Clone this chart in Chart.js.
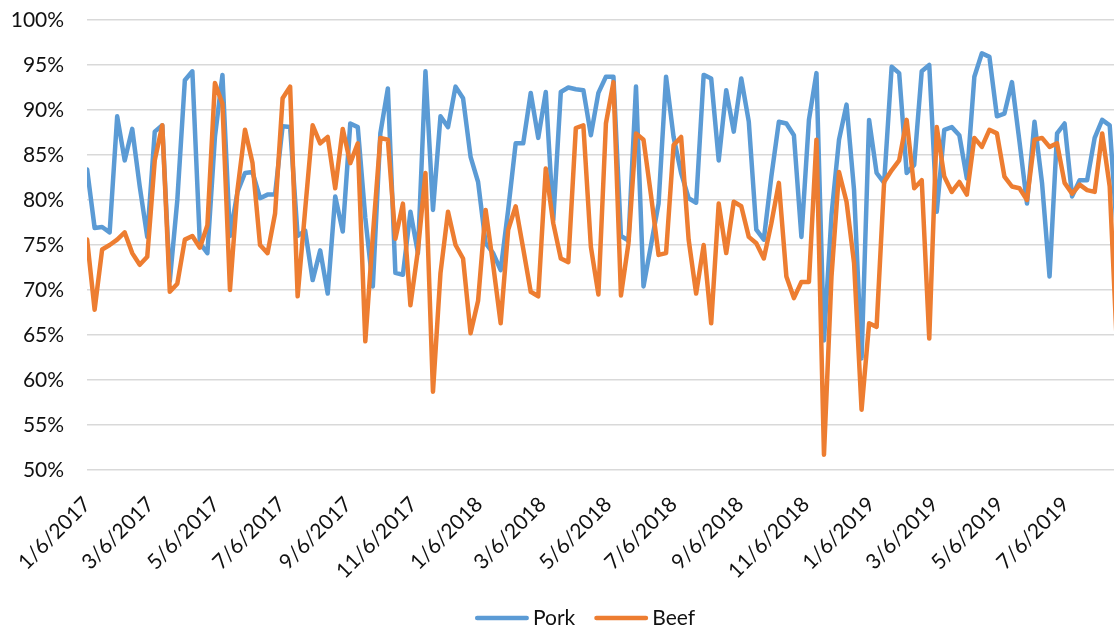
<!DOCTYPE html>
<html>
<head>
<meta charset="utf-8">
<script src="https://cdn.jsdelivr.net/npm/chart.js@4.4.1/dist/chart.umd.min.js"></script>
<style>
  html, body { margin: 0; padding: 0; background: #ffffff; }
  #wrap { width: 1114px; height: 630px; }
</style>
</head>
<body>
<div id="wrap"><canvas id="c" width="1114" height="630"></canvas></div>
<script>
// Weekly series, first week 1/6/2017 (values in percent)
const firstWeek = '1/6/2017';
const daysPerWeek = 7;
const lastVisibleDay = 956;

const pork = [
  83.4, 76.9, 77.0, 76.4, 89.3, 84.4, 87.9, 81.5, 75.9, 87.6,
  88.3, 71.0, 80.0, 93.3, 94.3, 75.2, 74.1, 87.0, 93.9, 76.0,
  80.9, 83.0, 83.1, 80.2, 80.6, 80.6, 88.2, 88.1, 76.0, 76.6,
  71.1, 74.4, 69.6, 80.4, 76.5, 88.5, 88.1, 78.0, 70.4, 87.4,
  92.4, 71.9, 71.7, 78.7, 74.1, 94.3, 78.9, 89.3, 88.1, 92.6,
  91.3, 84.8, 82.0, 75.2, 74.1, 72.2, 78.9, 86.3, 86.3, 91.9,
  86.9, 92.0, 77.8, 92.0, 92.5, 92.3, 92.2, 87.2, 91.9, 93.7,
  93.7, 76.0, 75.5, 92.6, 70.4, 75.0, 79.6, 93.7, 87.0, 83.0,
  80.2, 79.7, 93.9, 93.5, 84.4, 92.2, 87.6, 93.5, 88.7, 76.7,
  75.6, 82.6, 88.7, 88.5, 87.2, 75.9, 88.9, 94.1, 64.4, 78.3,
  86.7, 90.6, 81.1, 62.4, 88.9, 83.0, 81.9, 94.8, 94.1, 83.0,
  83.9, 94.3, 95.0, 78.7, 87.8, 88.1, 87.2, 82.4, 93.7, 96.3,
  95.9, 89.3, 89.6, 93.1, 86.5, 79.6, 88.7, 81.9, 71.5, 87.4,
  88.5, 80.4, 82.2, 82.2, 86.9, 88.9, 88.3, 76.0
];

const beef = [
  75.6, 67.8, 74.5, 75.0, 75.6, 76.4, 74.1, 72.8, 73.7, 84.4,
  88.3, 69.8, 70.7, 75.6, 76.0, 74.7, 77.2, 93.0, 90.7, 70.0,
  81.1, 87.8, 84.1, 75.0, 74.1, 78.5, 91.3, 92.6, 69.3, 78.9,
  88.3, 86.3, 87.0, 81.3, 87.9, 84.1, 86.3, 64.3, 76.0, 86.9,
  86.7, 75.7, 79.6, 68.3, 74.4, 83.0, 58.7, 71.9, 78.7, 75.0,
  73.5, 65.2, 68.8, 78.9, 72.8, 66.3, 76.7, 79.3, 74.6, 69.8,
  69.3, 83.5, 77.4, 73.5, 73.1, 88.0, 88.3, 74.8, 69.5, 88.5,
  93.1, 69.4, 75.2, 87.4, 86.7, 80.5, 73.9, 74.1, 86.1, 87.0,
  75.6, 69.6, 75.0, 66.3, 79.6, 74.1, 79.8, 79.3, 75.9, 75.2,
  73.5, 77.4, 81.9, 71.5, 69.1, 70.9, 70.9, 86.7, 51.7, 71.5,
  83.1, 79.8, 73.0, 56.7, 66.3, 65.9, 82.0, 83.3, 84.4, 88.9,
  81.3, 82.2, 64.6, 88.1, 82.6, 80.9, 82.0, 80.6, 86.9, 85.9,
  87.8, 87.4, 82.6, 81.5, 81.3, 80.0, 86.7, 86.9, 85.9, 86.3,
  81.9, 80.7, 81.7, 81.1, 80.9, 87.4, 81.5, 63.0
];

const dateTickLabels = [
  '1/6/2017', '3/6/2017', '5/6/2017', '7/6/2017', '9/6/2017', '11/6/2017',
  '1/6/2018', '3/6/2018', '5/6/2018', '7/6/2018', '9/6/2018', '11/6/2018',
  '1/6/2019', '3/6/2019', '5/6/2019', '7/6/2019'
];

const yTickValues = [50, 55, 60, 65, 70, 75, 80, 85, 90, 95, 100];

// Convert M/D/YYYY to a day offset from the first week
function toUTC(label) {
  const [m, d, y] = label.split('/').map(Number);
  return Date.UTC(y, m - 1, d);
}
const origin = toUTC(firstWeek);
const dayOf = label => Math.round((toUTC(label) - origin) / 86400000);
const tickDays = dateTickLabels.map(dayOf);
const labelForDay = new Map(tickDays.map((d, i) => [d, dateTickLabels[i]]));

const toPoints = arr => arr.map((v, i) => ({ x: i * daysPerWeek, y: v }));

const FONT_FAMILY = 'Lato, "Open Sans", sans-serif';
const TEXT_COLOR = '#111111';

Chart.defaults.font.family = FONT_FAMILY;
Chart.defaults.font.size = 21;
Chart.defaults.color = TEXT_COLOR;

// Bottom key: line swatch followed by the series name, in dataset order
const seriesKey = {
  id: 'seriesKey',
  afterDraw(chart) {
    const ctx = chart.ctx;
    const swatch = 54, gapText = 4, gapItem = 19, centerX = 585, centerY = 618;
    ctx.save();
    ctx.font = '21px ' + FONT_FAMILY;
    const items = chart.data.datasets.map(ds => ({
      text: ds.label, color: ds.borderColor, w: ctx.measureText(ds.label).width
    }));
    const total = items.reduce((s, it) => s + swatch + gapText + it.w, 0) + gapItem * (items.length - 1);
    let x = centerX - total / 2;
    items.forEach(it => {
      ctx.strokeStyle = it.color;
      ctx.lineWidth = 4.5;
      ctx.lineCap = 'round';
      ctx.beginPath();
      ctx.moveTo(x + 2.25, centerY);
      ctx.lineTo(x + swatch - 2.25, centerY);
      ctx.stroke();
      x += swatch + gapText;
      ctx.fillStyle = TEXT_COLOR;
      ctx.textAlign = 'left';
      ctx.textBaseline = 'middle';
      ctx.fillText(it.text, x, centerY);
      x += it.w + gapItem;
    });
    ctx.restore();
  }
};

new Chart(document.getElementById('c'), {
  type: 'line',
  data: {
    datasets: [
      {
        label: 'Pork',
        data: toPoints(pork),
        borderColor: '#5B9BD5',
        backgroundColor: '#5B9BD5',
        borderWidth: 4.5,
        borderJoinStyle: 'round',
        borderCapStyle: 'round',
        pointRadius: 0,
        tension: 0,
        order: 1
      },
      {
        label: 'Beef',
        data: toPoints(beef),
        borderColor: '#ED7D31',
        backgroundColor: '#ED7D31',
        borderWidth: 4.5,
        borderJoinStyle: 'round',
        borderCapStyle: 'round',
        pointRadius: 0,
        tension: 0,
        order: 0
      }
    ]
  },
  options: {
    responsive: false,
    devicePixelRatio: 1,
    animation: false,
    layout: { padding: { top: 20, right: 0, bottom: 50, left: 0 } },
    scales: {
      x: {
        type: 'linear',
        min: 0,
        max: lastVisibleDay,
        afterBuildTicks: scale => { scale.ticks = tickDays.map(v => ({ value: v })); },
        afterFit: scale => { scale.height = 110; },
        grid: { display: false, drawTicks: false },
        border: { display: false },
        ticks: {
          autoSkip: false,
          minRotation: 45,
          maxRotation: 45,
          padding: 22,
          callback: value => labelForDay.get(value) || ''
        }
      },
      y: {
        min: 50,
        max: 100,
        afterBuildTicks: scale => { scale.ticks = yTickValues.map(v => ({ value: v })); },
        afterFit: scale => { scale.width = 84; },
        grid: {
          color: '#d9d9d9',
          lineWidth: 1.5,
          drawTicks: true,
          tickLength: 23,
          tickColor: 'rgba(0,0,0,0)'
        },
        border: { display: false },
        ticks: {
          padding: 0,
          callback: v => v + '%'
        }
      }
    },
    plugins: {
      tooltip: { enabled: false },
      legend: { display: false }
    }
  },
  plugins: [seriesKey]
});
</script>
</body>
</html>
